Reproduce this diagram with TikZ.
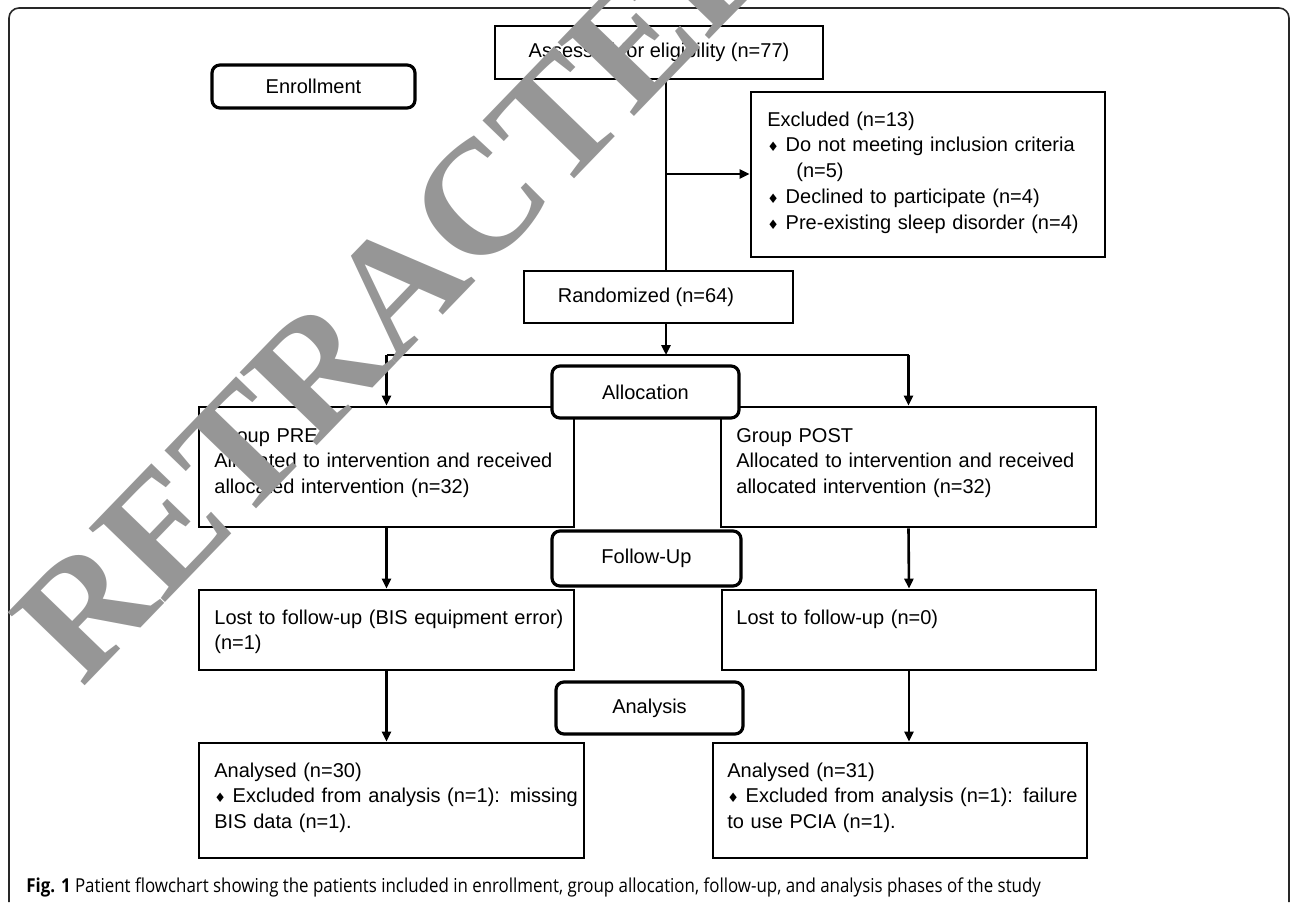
\documentclass[tikz,border=0pt]{standalone}
\usepackage{fontspec}
\setmainfont{Liberation Sans}
\newfontfamily\dv{DejaVu Sans}
\newfontfamily\capfont[FakeStretch=0.88]{Open Sans}
\newfontfamily\wmfont{Liberation Serif}
\usetikzlibrary{arrows.meta}
\definecolor{wmgray}{RGB}{150,150,150}
\definecolor{framec}{RGB}{40,40,40}
\newcommand{\dia}{{\dv\fontsize{6.5}{6.5}\selectfont\char"2666}}
\begin{document}
\begin{tikzpicture}[x=0.5pt,y=-0.5pt,
  font=\fontsize{10}{12.9}\selectfont,
  bx/.style={draw, line width=1.4pt, inner sep=0pt},
  ph/.style={draw, line width=1.6pt, rounded corners=4pt, fill=white, inner sep=0pt},
  txt/.style={anchor=base west, inner sep=0pt, align=left},
  ln/.style={line width=1.3pt},
  arr/.style={line width=1.3pt, -{Triangle[length=5pt,width=4.5pt]}},
  frame/.style={draw=framec, line width=0.8pt, rounded corners=5pt}]
\useasboundingbox (0,0) rectangle (1292,902);
% outer frame
\draw[frame] (9,902) -- (9,8) -- (1289,8) -- (1289,902);
% boxes
\node[bx, minimum width=164pt, minimum height=26.5pt] (assess) at (659,52.5) {Assessed for eligibility (n=77)};
\node[bx, minimum width=177pt, minimum height=82.5pt] (excl) at (928,174.5) {};
\node[bx, minimum width=134.5pt, minimum height=26pt] (rand) at (658.5,297) {};
\node[bx, minimum width=187.5pt, minimum height=60pt] (pre) at (386.5,467) {};
\node[bx, minimum width=187.5pt, minimum height=60pt] (post) at (908.5,467) {};
\node[bx, minimum width=187.5pt, minimum height=40pt] (lostpre) at (386.5,630) {};
\node[bx, minimum width=187pt, minimum height=40pt] (lostpost) at (909,630) {};
\node[bx, minimum width=192.5pt, minimum height=57.5pt] (anpre) at (391.5,800.5) {};
\node[bx, minimum width=187pt, minimum height=57.5pt] (anpost) at (900,800.5) {};
% texts
\node[inner sep=0pt] (randt) at (646,297) {Randomized (n=64)};
\node[txt, text width=170pt] (exclt) at (767,126) {Excluded (n=13)\\
\makebox[161.5pt][s]{\dia{} Do not meeting inclusion criteria}\\
\hspace*{14.5pt}(n=5)\\
\dia{} Declined to participate (n=4)\\
\dia{} Pre-existing sleep disorder (n=4)};
\node[txt, text width=180pt] (pret) at (214,442) {Group PRE\\
\makebox[172.5pt][s]{Allocated to intervention and received}\\
allocated intervention (n=32)};
\node[txt, text width=180pt] (postt) at (736,442) {Group POST\\
\makebox[172.5pt][s]{Allocated to intervention and received}\\
allocated intervention (n=32)};
\node[txt, text width=182pt] (lostpret) at (214,624) {Lost to follow-up (BIS equipment error)\\(n=1)};
\node[txt, text width=180pt] (lostpostt) at (736,624) {Lost to follow-up (n=0)};
\node[txt, text width=182pt] (anpret) at (214,777) {Analysed (n=30)\\
\makebox[177.5pt][s]{\dia{} Excluded from analysis (n=1): missing}\\
BIS data (n=1).};
\node[txt, text width=180pt] (anpostt) at (727,777) {Analysed (n=31)\\
\makebox[172.5pt][s]{\dia{} Excluded from analysis (n=1): failure}\\
to use PCIA (n=1).};
% connectors
\coordinate (split) at (666,174);
\coordinate (fork) at (666,355);
\draw[ln] (assess.south -| split) -- (rand.north -| split);
\draw[arr] (split) -- (excl.west |- split);
\draw[arr] (rand.south -| fork) -- (fork);
\draw[ln] (pre.north |- fork) -- (post.north |- fork);
\draw[arr] (pre.north |- fork) -- (pre.north);
\draw[arr] (post.north |- fork) -- (post.north);
\draw[arr] (pre.south) -- (lostpre.north);
\draw[arr] (post.south) -- (lostpost.north);
\draw[arr] (lostpre.south) -- (lostpre.south |- anpre.north);
\draw[arr] (lostpost.south) -- (lostpost.south |- anpost.north);
% phase boxes
\node[ph, minimum width=101.5pt, minimum height=21.5pt] (enroll) at (313.5,86.5) {Enrollment};
\node[ph, minimum width=93.5pt, minimum height=26pt] (alloc) at (645.5,392) {Allocation};
\node[ph, minimum width=94.5pt, minimum height=27.5pt] (follow) at (646.5,558.5) {Follow-Up};
\node[ph, minimum width=93.5pt, minimum height=26pt] (analysis) at (649.5,708) {Analysis};
% caption
\node[anchor=base west, inner sep=0pt] (cap) at (26,892) {\capfont\fontsize{9.6}{11}\selectfont\textbf{Fig. 1} Patient flowchart showing the patients included in enrollment, group allocation, follow-up, and analysis phases of the study};
% watermark
\node[font=\wmfont\bfseries\fontsize{81}{84}\selectfont, text=wmgray, rotate=46, inner sep=0pt] (wm) at (398,286) {RETRACTED};
\end{tikzpicture}
\end{document}
